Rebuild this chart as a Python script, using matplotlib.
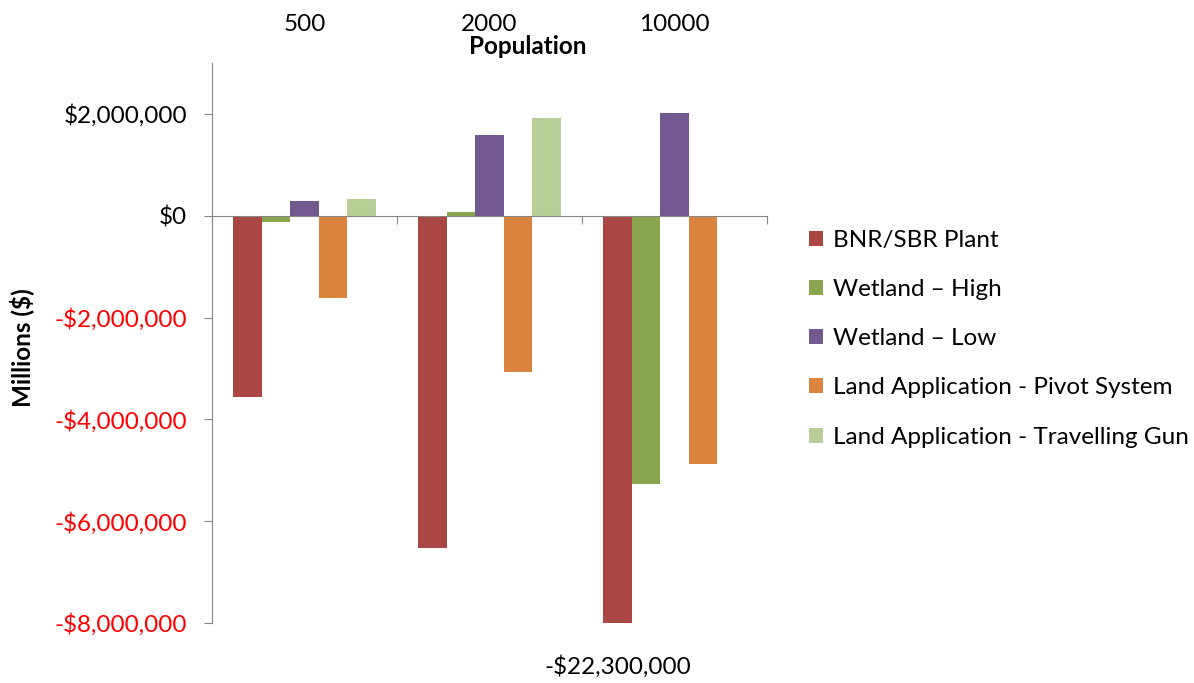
import numpy as np
from matplotlib import pyplot as plt
from matplotlib.ticker import FuncFormatter

populations = ["500", "2000", "10000"]
series = ["BNR/SBR Plant", "Wetland \u2013 High", "Wetland \u2013 Low",
          "Land Application - Pivot System", "Land Application - Travelling Gun"]
bnr_sbr = [-3.57e6, -6.53e6, -22.3e6]
wetland_high = [-0.12e6, 0.08e6, -5.27e6]
wetland_low = [0.28e6, 1.59e6, 2.02e6]
land_pivot = [-1.62e6, -3.06e6, -4.88e6]
land_gun = [0.33e6, 1.92e6, 0.0]
colors = ["#AA4643", "#89A54E", "#71588F", "#DB843D", "#B9CD96"]

plt.rcParams["font.family"] = ["Lato", "DejaVu Sans"]
fs = 17.5

fig = plt.figure(figsize=(11.94, 6.83), dpi=100)
ax = fig.add_axes([212 / 1194, 1 - 623 / 683, 555 / 1194, 560 / 683])

x = np.arange(len(populations))
w = 1 / 6.5
values = [bnr_sbr, wetland_high, wetland_low, land_pivot, land_gun]
for i, (name, vals, c) in enumerate(zip(series, values, colors)):
    ax.bar(x + (i - 2) * w, vals, w, color=c, label=name, edgecolor="none")

ax.set_xlim(-0.5, 2.5)
ax.set_ylim(-8e6, 3e6)
ax.set_yticks(np.arange(-8e6, 2.1e6, 2e6))


def money(v, pos=None):
    s = "${:,.0f}".format(abs(v))
    return "-" + s if v < 0 else s


ax.yaxis.set_major_formatter(FuncFormatter(money))
for lbl, v in zip(ax.get_yticklabels(), ax.get_yticks()):
    lbl.set_color("red" if v < 0 else "black")
ax.tick_params(axis="y", labelsize=fs, length=6, color="#868686", pad=12)

# category axis sits on the zero line, labels go on top
ax.spines["bottom"].set_position(("data", 0))
ax.set_xticks([-0.5, 0.5, 1.5, 2.5])
ax.set_xticklabels([])
ax.tick_params(axis="x", direction="out", length=6, color="#868686")
for s in ["top", "right"]:
    ax.spines[s].set_visible(False)
for s in ["left", "bottom"]:
    ax.spines[s].set_color("#868686")

top = ax.secondary_xaxis("top")
top.set_xticks(x)
top.set_xticklabels(populations)
top.tick_params(length=0, labelsize=fs, pad=20)
top.spines["top"].set_visible(False)
fig.text(528 / 1194, 1 - 47 / 683, "Population", ha="center", va="center",
         fontsize=fs, fontweight="bold")

fig.text(22 / 1194, 1 - 348 / 683, "Millions ($)", rotation=90, ha="center",
         va="center", fontsize=fs, fontweight="bold")

# value of the bar that runs off the bottom of the axis
ax.text(x[2] - 2 * w, -8.86e6, money(bnr_sbr[2]), ha="center", va="center",
        fontsize=fs, clip_on=False)

ax.legend(loc="upper left", bbox_to_anchor=(1.036, 0.741), frameon=False,
          fontsize=fs, handlelength=0.58, handleheight=0.58, handletextpad=0.4,
          labelspacing=1.16)

fig.savefig("out.png", dpi=100)
